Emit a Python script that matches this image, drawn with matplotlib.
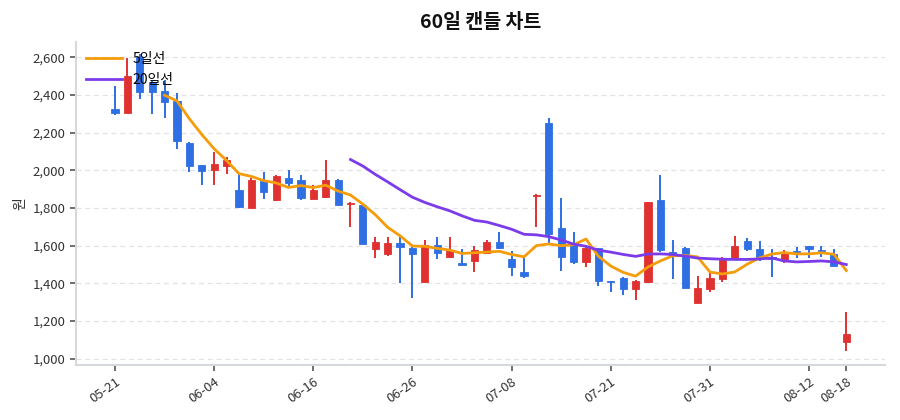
import matplotlib
matplotlib.use("Agg")
import matplotlib.pyplot as plt
import numpy as np
import pandas as pd

plt.rcParams['font.family'] = ['Noto Sans CJK KR', 'DejaVu Sans']

# trading days (MM-DD)
dates = ['05-21', '05-22', '05-23', '05-26', '05-27', '05-28', '05-29', '05-30',
         '06-04', '06-05', '06-06', '06-09', '06-10', '06-11', '06-12', '06-13',
         '06-16', '06-17', '06-18', '06-19', '06-20', '06-23', '06-24', '06-25',
         '06-26', '06-27', '06-30', '07-01', '07-02', '07-03', '07-04', '07-07',
         '07-08', '07-09', '07-10', '07-11', '07-14', '07-15', '07-16', '07-17',
         '07-21', '07-22', '07-23', '07-24', '07-25', '07-28', '07-29', '07-30',
         '07-31', '08-01', '08-04', '08-05', '08-06', '08-07', '08-08', '08-11',
         '08-12', '08-13', '08-14', '08-18']

opens = [2328, 2307, 2600, 2472, 2420, 2370, 2148, 2030, 2004, 2025,
         1898, 1800, 1946, 1845, 1960, 1951, 1850, 1860, 1950, 1820,
         1817, 1585, 1555, 1615, 1590, 1405, 1603, 1538, 1507, 1518,
         1562, 1621, 1530, 1463, 1865, 2253, 1697, 1614, 1516, 1587,
         1414, 1429, 1371, 1405, 1845, 1566, 1590, 1295, 1369, 1425,
         1531, 1624, 1585, 1538, 1519, 1571, 1598, 1577, 1555, 1087]
highs = [2448, 2595, 2620, 2475, 2478, 2410, 2150, 2030, 2100, 2070,
         1986, 1962, 1992, 1975, 2000, 1977, 1925, 2057, 1952, 1832,
         1818, 1645, 1645, 1645, 1595, 1628, 1645, 1645, 1585, 1597,
         1630, 1674, 1574, 1535, 1873, 2280, 1851, 1674, 1592, 1590,
         1415, 1436, 1419, 1835, 1978, 1633, 1592, 1439, 1457, 1541,
         1654, 1640, 1624, 1584, 1577, 1594, 1600, 1601, 1585, 1246]
lows = [2297, 2305, 2380, 2298, 2278, 2113, 1993, 1923, 1923, 1982,
        1800, 1800, 1850, 1840, 1907, 1845, 1848, 1854, 1815, 1700,
        1610, 1537, 1548, 1400, 1325, 1404, 1528, 1536, 1498, 1459,
        1556, 1583, 1441, 1431, 1700, 1612, 1468, 1501, 1486, 1385,
        1353, 1341, 1314, 1404, 1566, 1421, 1376, 1294, 1354, 1407,
        1531, 1570, 1518, 1436, 1506, 1536, 1536, 1541, 1492, 1042]
closes = [2305, 2500, 2415, 2415, 2362, 2155, 2025, 1998, 2034, 2053,
          1805, 1951, 1887, 1972, 1933, 1855, 1898, 1950, 1817, 1828,
          1612, 1618, 1615, 1592, 1555, 1605, 1563, 1572, 1500, 1575,
          1621, 1586, 1487, 1438, 1872, 1665, 1540, 1512, 1590, 1415,
          1405, 1372, 1411, 1833, 1575, 1545, 1378, 1374, 1430, 1524,
          1598, 1584, 1542, 1532, 1563, 1563, 1585, 1570, 1493, 1130]

df = pd.DataFrame({'open': opens, 'high': highs, 'low': lows, 'close': closes})
df['ma5'] = df['close'].rolling(5).mean()
df['ma20'] = df['close'].rolling(20).mean()

up_color = '#e03131'
down_color = '#2f6fe4'

fig = plt.figure(figsize=(9, 4.2), dpi=100)
ax = fig.add_axes([0.0844, 0.131, 0.8986, 0.769])

x = np.arange(len(df))
colors = [up_color if c >= o else down_color for o, c in zip(df['open'], df['close'])]

ax.vlines(x, df['low'], df['high'], colors=colors, linewidth=1.4, zorder=2)
body_bottom = np.minimum(df['open'], df['close'])
body_height = np.maximum(np.abs(df['close'] - df['open']), 4)
ax.bar(x, body_height, bottom=body_bottom, width=0.58, color=colors,
       edgecolor=colors, linewidth=0.6, zorder=3)

ax.plot(x, df['ma5'], color='#f59c0b', linewidth=2, label='5일선', zorder=4)
ax.plot(x, df['ma20'], color='#7b3bea', linewidth=2, label='20일선', zorder=4)

ax.set_xlim(-3.15, 62.1)
ax.set_ylim(967, 2682)

ax.set_yticks(np.arange(1000, 2601, 200))
ax.set_yticklabels([f'{v:,}' for v in range(1000, 2601, 200)])
tick_pos = list(range(0, len(df), 8)) + [len(df) - 1]
ax.set_xticks(tick_pos)
ax.set_xticklabels([dates[i] for i in tick_pos], rotation=35, ha='right',
                   rotation_mode='anchor')

ax.grid(axis='y', linestyle=(0, (4, 3)), color='#e3e3e3', linewidth=0.9)
ax.set_axisbelow(True)
for s in ['top', 'right']:
    ax.spines[s].set_visible(False)
for s in ['left', 'bottom']:
    ax.spines[s].set_color('#d5d9de')
    ax.spines[s].set_linewidth(1.5)
ax.tick_params(axis='both', colors='#555555', labelcolor='#333333',
               labelsize=9.5, length=4, width=1.2)

ax.set_ylabel('원', fontsize=10, color='#333333')
ax.set_title('60일 캔들 차트', fontsize=14, fontweight='bold', color='#111111', pad=10)

ax.legend(loc='upper left', frameon=False, fontsize=10, handlelength=2.6,
          borderaxespad=0.3, labelspacing=0.5)

fig.savefig('out.png', dpi=100)
